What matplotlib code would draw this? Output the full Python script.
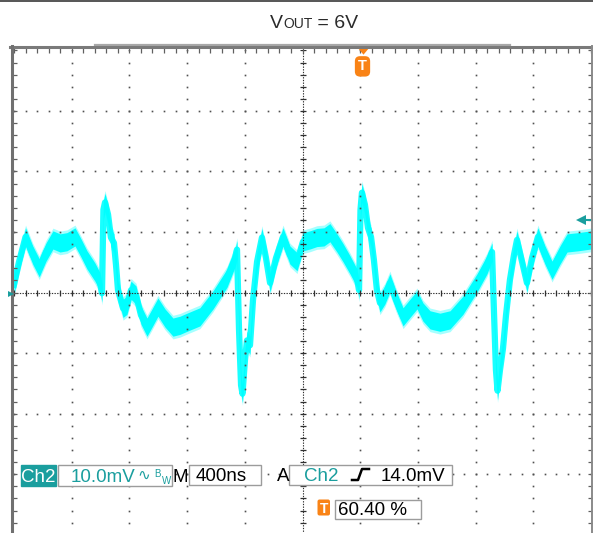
import matplotlib.pyplot as plt
import numpy as np
from matplotlib.patches import Rectangle, FancyBboxPatch
from matplotlib.lines import Line2D
from matplotlib.transforms import Affine2D

# Ch2 trace (ns from left edge, mV)
t_ns = [0, 35, 80, 130, 175, 222, 270, 319, 367, 423, 464, 506, 561, 596,
        610, 620, 631, 652, 672, 693, 707, 721, 756, 783, 811, 846, 880,
        922, 957, 998, 1047, 1102, 1151, 1199, 1289, 1380, 1477, 1532, 1546,
        1560, 1574, 1584, 1601, 1615, 1636, 1657, 1685, 1719, 1747, 1775,
        1816, 1865, 1913, 1962, 2003, 2052, 2100, 2149, 2190, 2239, 2281,
        2329, 2378, 2392, 2402, 2412, 2433, 2454, 2475, 2495, 2516, 2537,
        2571, 2606, 2648, 2697, 2745, 2794, 2835, 2884, 2953, 3023, 3112,
        3210, 3279, 3314, 3327, 3341, 3352, 3369, 3390, 3411, 3438, 3466,
        3487, 3522, 3556, 3591, 3632, 3681, 3730, 3785, 3834, 3910, 4000]
v_mv = [1.3, 5.1, 9.2, 6.2, 4.1, 6.7, 8.7, 8.2, 8.4, 9.2, 7.4, 5.4, 3.4, 1.8,
        -0.1, 13.7, 14.9, 12.9, 9.1, 8.2, 4.6, 0.4, -2.6, -2.1, 0.4, -0.4, -3.7,
        -5.7, -4.2, -2.4, -4.2, -5.7, -5.4, -4.9, -4.0, -1.2, 2.4, 5.7, 7.1,
        -6.2, -15.3, -16.7, -11.2, -7.9, -8.7, -1.2, 5.1, 9.1, 5.7, 1.6,
        5.7, 9.2, 6.2, 5.1, 8.4, 8.7, 9.1, 9.2, 9.9, 8.2, 6.6,
        4.6, 2.4, 0.4, 13.7, 16.5, 14.5, 10.7, 9.2, 5.4, 0.4, -1.7,
        -0.4, 1.6, -1.2, -4.0, -2.6, -1.2, -3.2, -4.5, -4.9, -4.5, -2.1,
        1.6, 4.6, 6.7, -2.9, -12.8, -16.2, -12.8, -9.2, -3.7, 2.1, 6.2,
        8.7, 5.1, 1.6, 5.7, 9.2, 6.2, 3.7, 6.2, 8.2, 8.4, 8.7]

ns_per_div = 400
mv_per_div = 10
trig_pos = 0.604
trig_level_mv = 12.0

W, H = 593, 533
teal = '#1a9e9e'
orange = '#f98316'
gray = '#505050'

fig = plt.figure(figsize=(W / 100, H / 100), dpi=100)
# pixel coords, y downwards
tr = Affine2D().scale(1 / W, -1 / H).translate(0, 1) + fig.transFigure

ax = fig.add_axes([14 / W, 1 - 534.8 / H, 577 / W, (534.8 - 50.4) / H])
ax.set_xlim(0, 10 * ns_per_div)
ax.set_ylim(-4 * mv_per_div, 4 * mv_per_div)
ax.set_axis_off()

t = np.array(t_ns)
v = np.array(v_mv)
ax.fill_between(t, v - 1.95, v + 1.95, color='#5cffff', alpha=0.55, lw=0, zorder=2)
ax.fill_between(t, v - 1.5, v + 1.5, color='#00ffff', lw=0, zorder=2)
ax.plot(t, v, color='#00ffff', lw=4.5, alpha=0.9, zorder=2)

# graticule
fine_t = np.arange(0, 10 * ns_per_div + 1, ns_per_div / 5)
fine_v = np.arange(-4 * mv_per_div, 4 * mv_per_div + 1, mv_per_div / 5)
for k in [-3, -2, -1, 1, 2, 3]:
    ax.plot(fine_t, np.full(len(fine_t), k * mv_per_div), ls='none', marker='s',
            ms=1.2, mew=0, color=gray, zorder=3)
for k in [1, 2, 3, 4, 6, 7, 8, 9]:
    ax.plot(np.full(len(fine_v), k * ns_per_div), fine_v, ls='none', marker='s',
            ms=1.2, mew=0, color=gray, zorder=3)

ax.axhline(0, color='#303030', lw=0.8, ls=(0, (1.2, 1.2)), zorder=3)
ax.plot(fine_t, np.zeros(len(fine_t)), ls='none', marker='|', ms=5, mew=0.9,
        color='#303030', zorder=3)
ax.axvline(5 * ns_per_div, color='#303030', lw=0.8, ls=(0, (1.2, 1.2)), zorder=3)
ax.plot(np.full(len(fine_v), 5 * ns_per_div), fine_v, ls='none', marker='_', ms=5,
        mew=0.9, color='#303030', zorder=3)

# edge ticks
ax.plot(fine_t, np.full(len(fine_t), 4 * mv_per_div), ls='none', marker='|', ms=5,
        mew=0.9, color='#606060', clip_on=False, zorder=3)
ax.plot(np.zeros(len(fine_v)), fine_v, ls='none', marker='_', ms=5, mew=0.9,
        color='#606060', clip_on=False, zorder=3)
ax.plot(np.full(len(fine_v), 10 * ns_per_div), fine_v, ls='none', marker='_', ms=5,
        mew=0.9, color='#606060', clip_on=False, zorder=3)

# trigger position marker
t_trig = trig_pos * 10 * ns_per_div
ax.plot(t_trig, 4 * mv_per_div, marker=[(-1, 0.6), (1, 0.6), (0, -0.6)], ms=10,
        color=orange, mew=0, clip_on=False, zorder=5)
ax.annotate('T', xy=(t_trig, 4 * mv_per_div), xytext=(0, -11.5), textcoords='offset points',
            ha='center', va='center', color='white', fontsize=10.5, fontweight='bold',
            family='Liberation Sans',
            bbox=dict(boxstyle='round,pad=0.22,rounding_size=0.35', fc=orange, ec='none'),
            annotation_clip=False, zorder=5)

# trigger level arrow
ax.plot([3940, 4020], [trig_level_mv, trig_level_mv], color=teal, lw=1.5,
        clip_on=False, zorder=5)
ax.plot(3930, trig_level_mv, marker='<', ms=7, color=teal, mew=0, clip_on=False, zorder=5)

# frame
fig.add_artist(Line2D([0, W], [0.7, 0.7], transform=tr, color='#555555', lw=1.4))
fig.add_artist(Line2D([95, 510], [45, 45], transform=tr, color='#a8a8a8', lw=1.6))
fig.add_artist(Line2D([10, W], [47.3, 47.3], transform=tr, color='#7a7a7a', lw=2.2))
fig.add_artist(Line2D([11.5, 11.5], [46, H], transform=tr, color='#707070', lw=2.2))
fig.add_artist(Line2D([592, 592], [46, H], transform=tr, color='#8a8a8a', lw=1.4))
fig.add_artist(Line2D([10.5], [293.5], transform=tr, marker='>', ms=4.5, color=teal, mew=0))

# title with small caps subscript
txt_kw = dict(transform=tr, va='baseline', color='#2a2a2a', family='Liberation Sans')
t1 = fig.text(270, 27.5, 'V', fontsize=14, **txt_kw)
t2 = ax.annotate('OUT', xy=(1, 0), xycoords=t1, va='bottom', fontsize=10,
                 color='#2a2a2a', family='Liberation Sans', annotation_clip=False)
ax.annotate(' = 6V', xy=(1, 0), xycoords=t2, va='bottom', fontsize=14,
            color='#2a2a2a', family='Liberation Sans', annotation_clip=False)


# readouts
def box(x0, y0, x1, y1, fc='white', ec='#9c9c9c'):
    fig.add_artist(Rectangle((x0, y0), x1 - x0, y1 - y0, transform=tr,
                             fc=fc, ec=ec, lw=1))


def label(x, y, s, color='black', size=13.5, **kw):
    fig.text(x, y, s, transform=tr, va='baseline', color=color, fontsize=size,
             family=['Liberation Sans', 'DejaVu Sans'], **kw)


box(20.7, 464.7, 56, 486, fc=teal, ec=teal)
label(38.3, 481.5, 'Ch2', color='white', ha='center')
box(58.3, 465, 172.3, 485.5)
label(70.5, 481.5, '10.0mV', color=teal)
label(137, 480, '∿', color=teal, size=11)
label(154, 477, 'B', color=teal, size=7)
label(161.5, 484, 'W', color=teal, size=7)
label(173, 481.5, 'M')
box(189, 464.5, 261, 484.5)
label(196, 481, '400ns')
label(277, 481, 'A')
box(289, 464.5, 452, 484.5)
label(304, 481, 'Ch2', color=teal)
fig.add_artist(Line2D([352, 358, 362, 369], [480, 480, 469, 469], transform=tr,
                      color='black', lw=1.8))
label(381, 481, '14.0mV')

fig.add_artist(FancyBboxPatch((317.5, 499.5), 12.5, 16, transform=tr,
                              boxstyle='round,pad=0,rounding_size=2',
                              fc=orange, ec='none'))
label(323.7, 513, 'T', color='white', size=10, ha='center', fontweight='bold')
box(335, 500, 421, 518.5)
label(338, 515, '60.40 %')

fig.savefig('out.png', dpi=100)
